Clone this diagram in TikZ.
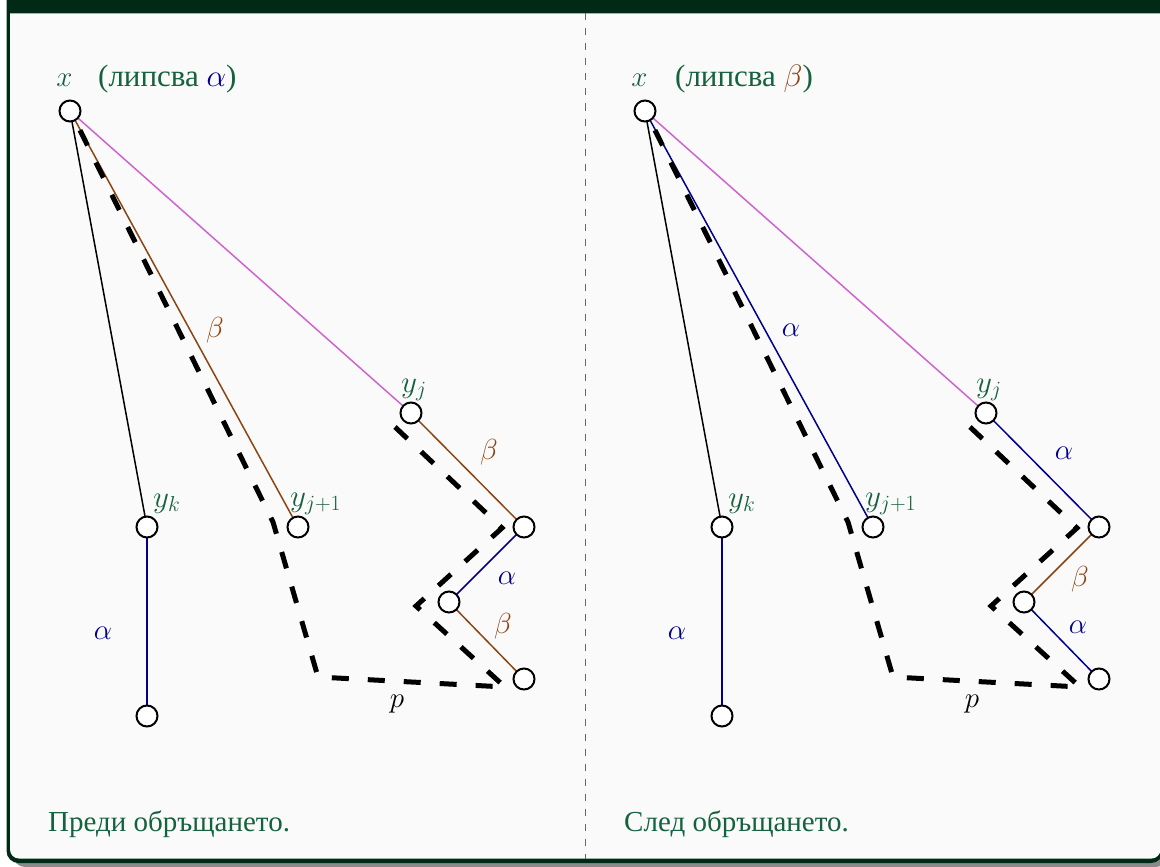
\RequirePackage{fix-cm}
\documentclass[tikz,border=0pt]{standalone}
\usepackage[no-math]{fontspec}
\newfontfamily\cyr{Liberation Serif}
\definecolor{titlebg}{RGB}{0,42,22}
\definecolor{boxbg}{RGB}{250,250,250}
\definecolor{shadowgray}{RGB}{138,138,138}
\definecolor{txtgreen}{RGB}{22,98,62}
\definecolor{anavy}{RGB}{0,0,140}
\definecolor{bbrown}{RGB}{139,69,19}
\definecolor{lpink}{RGB}{206,100,206}
\tikzset{
  vtx/.style={circle,draw=black,line width=2pt,fill=white,minimum size=21pt,inner sep=0pt},
  edg/.style={line width=1.5pt},
  ppath/.style={line width=5pt,dash pattern=on 17pt off 19pt},
  lab/.style={font=\fontsize{29}{34}\selectfont,inner sep=0pt},
  vlab/.style={font=\fontsize{31}{36}\selectfont,inner sep=0pt,text=txtgreen,anchor=base west},
  miss/.style={font=\cyr\fontsize{31}{36}\selectfont,inner sep=0pt,text=txtgreen,anchor=base west},
  capt/.style={font=\cyr\fontsize{29}{34}\selectfont,text=txtgreen,inner sep=0pt,anchor=base west},
}
\begin{document}
\begin{tikzpicture}[x=1pt,y=-1pt]
\useasboundingbox (0,0) rectangle (1160,867);
% frame
\fill[shadowgray,rounded corners=12pt] (13,20) rectangle (1168,867);
\fill[titlebg,rounded corners=12pt] (6.5,-40) rectangle (1163,863);
\fill[boxbg] (10,13.5) -- (1160.5,13.5) [rounded corners=9pt] -- (1160.5,858.5) -- (10,858.5) [sharp corners] -- cycle;
\draw[gray!80!black,line width=1pt,dash pattern=on 7pt off 8pt] (585,13.5) -- (585,858.5);

% ---------- left panel ----------
\coordinate (Lx) at (70,111);
\coordinate (Lyk) at (147,527);
\coordinate (Lbot) at (147,716);
\coordinate (Lyj1) at (298,527);
\coordinate (Lyj) at (411,413);
\coordinate (Lr) at (524,527);
\coordinate (Lm) at (449,602);
\coordinate (Lb) at (524,679);
\draw[edg,black] (Lx) -- (Lyk);
\draw[edg,anavy] (Lyk) -- (Lbot);
\draw[edg,bbrown] (Lx) -- (Lyj1);
\draw[edg,lpink] (Lx) -- (Lyj);
\draw[edg,bbrown] (Lyj) -- (Lr);
\draw[edg,anavy] (Lr) -- (Lm);
\draw[edg,bbrown] (Lm) -- (Lb);
\coordinate (Lp1) at (395,427);
\coordinate (Lp2) at (502,528);
\coordinate (Lp3) at (416,606);
\coordinate (Lp4) at (505,687);
\coordinate (Lp5) at (318,677);
\coordinate (Lp6) at (273,522);
\coordinate (Lp7) at (74,118);
\draw[ppath] (Lp1) -- (Lp2) -- (Lp3) -- (Lp4) -- (Lp5) -- (Lp6) -- (Lp7);
\node[vtx] (nLx) at (Lx) {};
\node[vtx] (nLyk) at (Lyk) {};
\node[vtx] (nLbot) at (Lbot) {};
\node[vtx] (nLyj1) at (Lyj1) {};
\node[vtx] (nLyj) at (Lyj) {};
\node[vtx] (nLr) at (Lr) {};
\node[vtx] (nLm) at (Lm) {};
\node[vtx] (nLb) at (Lb) {};
\node[lab,text=txtgreen,anchor=base] (tLx) at (64.5,87) {$x$};
\node[miss] (tLmiss) at (98,87) {(липсва \textcolor{anavy}{$\alpha$})};
\node[vlab] (tLyk) at (153,507) {$y_k$};
\node[vlab] (tLyj1) at (290,506) {$y_{j+1}$};
\node[vlab] (tLyj) at (401,392) {$y_j$};
\node[lab,text=bbrown] (lLb1) at (215,330) {$\beta$};
\node[lab,text=anavy] (lLa1) at (103,633) {$\alpha$};
\node[lab,text=bbrown] (lLb2) at (489,452) {$\beta$};
\node[lab,text=anavy] (lLa2) at (507,578) {$\alpha$};
\node[lab,text=bbrown] (lLb3) at (503,626) {$\beta$};
\node[lab,anchor=base] (lLp) at (397,707) {$p$};
\node[capt] (cL) at (48,831) {Преди обръщането.};

% ---------- right panel ----------
\begin{scope}[xshift=575pt]
\coordinate (Rx) at (70,111);
\coordinate (Ryk) at (147,527);
\coordinate (Rbot) at (147,716);
\coordinate (Ryj1) at (298,527);
\coordinate (Ryj) at (411,413);
\coordinate (Rr) at (524,527);
\coordinate (Rm) at (449,602);
\coordinate (Rb) at (524,679);
\draw[edg,black] (Rx) -- (Ryk);
\draw[edg,anavy] (Ryk) -- (Rbot);
\draw[edg,anavy] (Rx) -- (Ryj1);
\draw[edg,lpink] (Rx) -- (Ryj);
\draw[edg,anavy] (Ryj) -- (Rr);
\draw[edg,bbrown] (Rr) -- (Rm);
\draw[edg,anavy] (Rm) -- (Rb);
\coordinate (Rp1) at (395,427);
\coordinate (Rp2) at (502,528);
\coordinate (Rp3) at (416,606);
\coordinate (Rp4) at (505,687);
\coordinate (Rp5) at (318,677);
\coordinate (Rp6) at (273,522);
\coordinate (Rp7) at (74,118);
\draw[ppath] (Rp1) -- (Rp2) -- (Rp3) -- (Rp4) -- (Rp5) -- (Rp6) -- (Rp7);
\node[vtx] (nRx) at (Rx) {};
\node[vtx] (nRyk) at (Ryk) {};
\node[vtx] (nRbot) at (Rbot) {};
\node[vtx] (nRyj1) at (Ryj1) {};
\node[vtx] (nRyj) at (Ryj) {};
\node[vtx] (nRr) at (Rr) {};
\node[vtx] (nRm) at (Rm) {};
\node[vtx] (nRb) at (Rb) {};
\node[lab,text=txtgreen,anchor=base] (tRx) at (64.5,87) {$x$};
\node[miss] (tRmiss) at (100,87) {(липсва \textcolor{bbrown}{$\beta$})};
\node[vlab] (tRyk) at (153,507) {$y_k$};
\node[vlab] (tRyj1) at (290,506) {$y_{j+1}$};
\node[vlab] (tRyj) at (401,392) {$y_j$};
\node[lab,text=anavy] (lRa1) at (216,330) {$\alpha$};
\node[lab,text=anavy] (lRa0) at (102,633) {$\alpha$};
\node[lab,text=anavy] (lRa2) at (489,453) {$\alpha$};
\node[lab,text=bbrown] (lRb2) at (505,579) {$\beta$};
\node[lab,text=anavy] (lRa3) at (503,627) {$\alpha$};
\node[lab,anchor=base] (lRp) at (397,707) {$p$};
\node[capt] (cR) at (49,831) {След обръщането.};
\end{scope}
\end{tikzpicture}
\end{document}
